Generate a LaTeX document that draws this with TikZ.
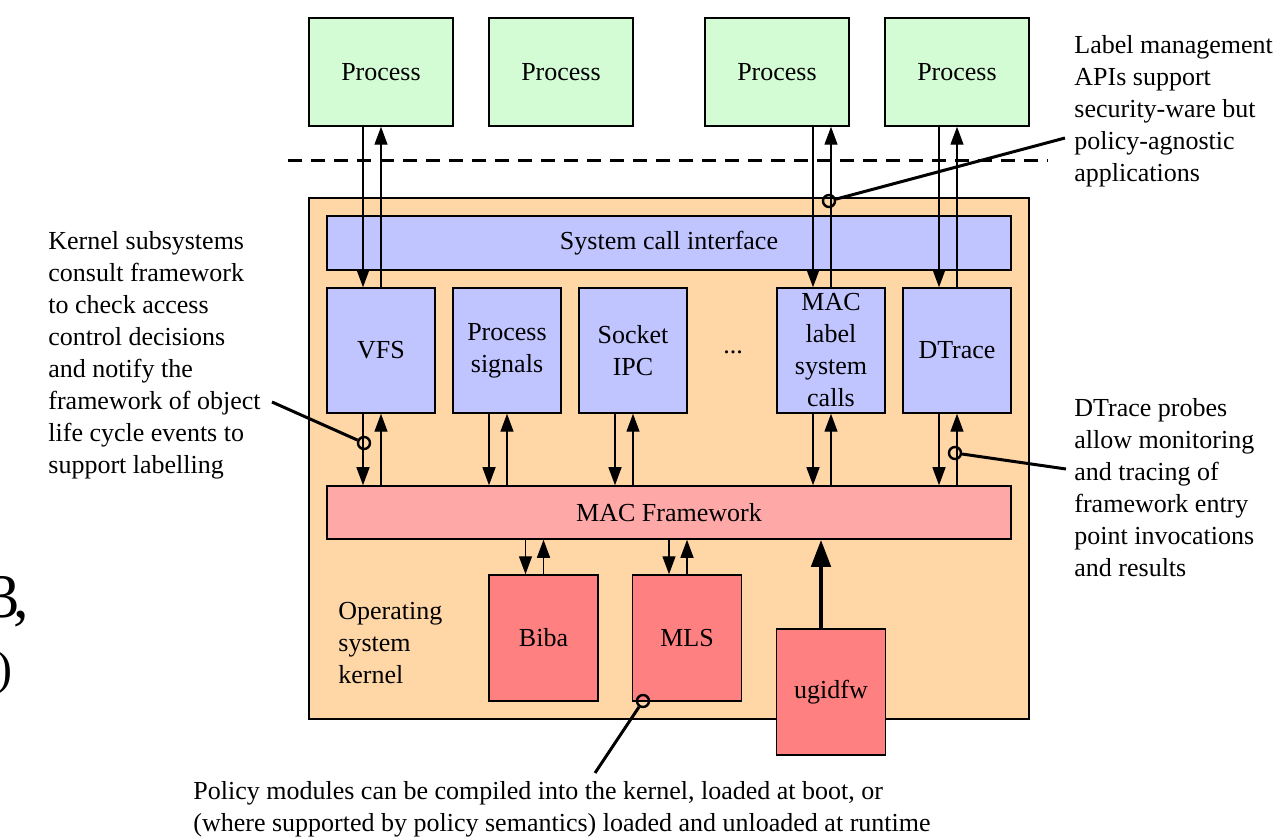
\documentclass[tikz,border=0pt]{standalone}
\usepackage{fontspec}
\setmainfont{Liberation Serif}
\usetikzlibrary{arrows.meta}
\definecolor{procgreen}{RGB}{212,252,212}
\definecolor{kernorange}{RGB}{255,214,166}
\definecolor{subblue}{RGB}{192,196,255}
\definecolor{fwpink}{RGB}{255,168,168}
\definecolor{polred}{RGB}{255,128,128}

\begin{document}
\begin{tikzpicture}[
    x=0.5pt, y=-0.5pt,
    every node/.style={font=\fontsize{13}{16}\selectfont},
    box/.style={draw, line width=0.75pt, inner sep=0pt, align=center},
    procbox/.style={box, fill=procgreen, minimum width=72pt, minimum height=54pt},
    subbox/.style={box, fill=subblue, minimum width=54pt, minimum height=62.5pt},
    polbox/.style={box, fill=polred, minimum width=54.5pt, minimum height=63pt},
    note/.style={align=left, inner sep=0pt, anchor=north west},
    arr/.style={line width=0.7pt, -{Triangle[length=9pt,width=6.5pt]}},
    bigarr/.style={line width=2.3pt, -{Triangle[length=13.5pt,width=9.5pt]}},
    callout/.style={line width=1.5pt},
    probe/.style={circle, draw, line width=1.2pt, minimum size=6pt, inner sep=0pt}
  ]
  \useasboundingbox (0,0) rectangle (1280,839);

  % cut-off slide text at the left edge
  \node[font=\fontsize{31}{31}\selectfont, inner sep=0pt, anchor=base west] (frag1) at (-12,617) {3\kern-3pt,};
  \node[font=\fontsize{24}{24}\selectfont, inner sep=0pt, anchor=base east] (frag2) at (13,684) {)};

  % user processes
  \node[procbox] (proc1) at (381,72) {Process};
  \node[procbox] (proc2) at (561,72) {Process};
  \node[procbox] (proc3) at (777,72) {Process};
  \node[procbox] (proc4) at (957,72) {Process};
  \coordinate (sepl) at (288,161);
  \coordinate (sepr) at (1048,161);
  \draw[line width=1.5pt, dash pattern=on 7pt off 4.5pt] (sepl) -- (sepr);

  % kernel
  \node[box, fill=kernorange, minimum width=360pt, minimum height=260.5pt] (kernel) at (669,458.5) {};
  \node[box, fill=subblue, minimum width=342pt, minimum height=27pt] (sysc) at (669,243) {System call interface};
  \node[subbox] (vfs) at (381,350.5) {VFS};
  \node[subbox] (psig) at (507,350.5) {Process\\signals};
  \node[subbox] (sock) at (633,350.5) {Socket\\IPC};
  \node (dots) at (733,352) {...};
  \node[subbox] (macl) at (831,350.5) {MAC\\label\\system\\calls};
  \node[subbox] (dtr) at (957,350.5) {DTrace};
  \node[box, fill=fwpink, minimum width=342pt, minimum height=26.5pt] (macfw) at (669,512.5) {MAC Framework};
  \node[note] (oskern) at (338,602) {Operating\\system\\kernel};
  \node[polbox] (biba) at (543.5,638) {Biba};
  \node[polbox] (mls) at (687,638) {MLS};
  \node[polbox] (ugid) at (831,692) {ugidfw};

  % arrow pairs, down on the left, up on the right
  \foreach \hi/\lo/\ref in {proc1/vfs/vfs, proc3/macl/macl, proc4/dtr/dtr,
      vfs/macfw/vfs, psig/macfw/psig, sock/macfw/sock, macl/macfw/macl,
      dtr/macfw/dtr, macfw/biba/biba, macfw/mls/mls} {
    \path (\ref.center) ++(-18,0) coordinate (dn) (\ref.center) coordinate (up);
    \draw[arr] (dn |- \hi.south) -- (dn |- \lo.north);
    \draw[arr] (up |- \lo.north) -- (up |- \hi.south);
  }
  \path (ugid.north) ++(-10,0) coordinate (ug);
  \draw[bigarr] (ug) -- (ug |- macfw.south);

  % probe points and notes
  \node[probe] (pr1) at (364,443) {};
  \node[probe] (pr2) at (829,201) {};
  \node[probe] (pr3) at (955,453) {};
  \node[probe] (pr4) at (643,701) {};

  \node[note] (kernote) at (48,231) {Kernel subsystems\\consult framework\\to check access\\control decisions\\and notify the\\framework of object\\life cycle events to\\support labelling};
  \node[note] (apinote) at (1074,35) {Label management\\APIs support\\security-ware but\\policy-agnostic\\applications};
  \node[note] (dtrnote) at (1074,398) {DTrace probes\\allow monitoring\\and tracing of\\framework entry\\point invocations\\and results};
  \node[note] (polnote) at (193,781) {Policy modules can be compiled into the kernel, loaded at boot, or\\(where supported by policy semantics) loaded and unloaded at runtime};

  \coordinate (kerend) at (272,402);
  \coordinate (apiend) at (1065,138);
  \coordinate (dtrend) at (1066,469);
  \coordinate (polend) at (595,773);
  \draw[callout] (kerend) -- (pr1);
  \draw[callout] (pr2) -- (apiend);
  \draw[callout] (pr3) -- (dtrend);
  \draw[callout] (pr4) -- (polend);
\end{tikzpicture}
\end{document}
